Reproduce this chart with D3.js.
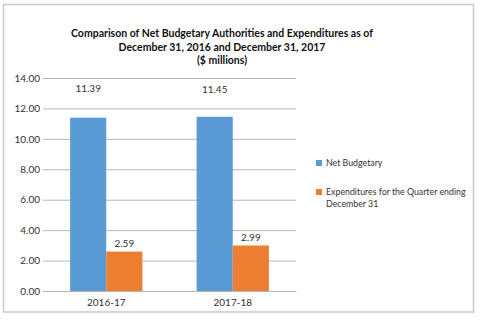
<!DOCTYPE html>
<html>
<head>
<meta charset="utf-8">
<script src="https://cdn.jsdelivr.net/npm/d3@7/dist/d3.min.js"></script>
<style>
  html, body { margin: 0; padding: 0; background: #fff; }
  svg { display: block; font-family: Lato, "Open Sans", sans-serif; }
</style>
</head>
<body>
<svg id="chart" width="480" height="330"></svg>
<script>
// Fiscal years on the category axis
const categories = ["2016-17", "2017-18"];
// Series names and values ($ millions)
const seriesNames = ["Net Budgetary", "Expenditures for the Quarter ending December 31"];
const netBudgetary = [11.39, 11.45];
const expenditures = [2.59, 2.99];
// Value axis ticks
const yTicks = [0, 2, 4, 6, 8, 10, 12, 14];
const titleLines = [
  "Comparison of Net Budgetary Authorities and Expenditures as of",
  "December 31, 2016 and December 31, 2017",
  "($ millions)"
];

const colors = ["#5b9bd5", "#ed7d31"];
const series = [netBudgetary, expenditures];

const svg = d3.select("#chart");

// Chart frame
svg.append("rect")
  .attr("x", 3.5).attr("y", 4.5)
  .attr("width", 470).attr("height", 307.5)
  .attr("fill", "#fff")
  .attr("stroke", "#c9c9c9")
  .attr("stroke-width", 1.5);

// Title
svg.append("g").selectAll("text")
  .data(titleLines)
  .join("text")
  .attr("x", 222)
  .attr("y", (d, i) => 37 + i * 13.5)
  .attr("text-anchor", "middle")
  .attr("font-size", 10.5)
  .attr("font-weight", "bold")
  .attr("fill", "#111")
  .text(d => d);

const plot = { left: 43, right: 296, top: 78, bottom: 291 };

const x = d3.scaleBand()
  .domain(categories)
  .range([plot.left, plot.right])
  .paddingInner(0)
  .paddingOuter(0);

const y = d3.scaleLinear()
  .domain([0, 14])
  .range([plot.bottom, plot.top]);

// Bars occupy 1/(1+1.5 gap) of each category band
const groupWidth = x.bandwidth() / 1.75;
const xs = d3.scaleBand()
  .domain(d3.range(series.length))
  .range([0, groupWidth]);

// Gridlines
svg.append("g")
  .attr("transform", `translate(${plot.left},0)`)
  .call(d3.axisLeft(y).tickValues(yTicks).tickSize(-(plot.right - plot.left)).tickFormat(d3.format(".2f")))
  .call(g => g.select(".domain").remove())
  .call(g => g.selectAll(".tick line").attr("stroke", "#b5b5b5").attr("stroke-width", 1))
  .call(g => g.selectAll(".tick text")
    .attr("x", -3)
    .attr("font-size", 10)
    .attr("fill", "#333")
    .attr("font-family", "Lato, 'Open Sans', sans-serif"));

// Bars
const groups = svg.append("g").selectAll("g")
  .data(categories)
  .join("g")
  .attr("transform", d => `translate(${x(d) + (x.bandwidth() - groupWidth) / 2},0)`);

series.forEach((vals, si) => {
  groups.append("rect")
    .attr("x", xs(si))
    .attr("width", xs.bandwidth())
    .attr("y", (d, i) => y(vals[i]))
    .attr("height", (d, i) => y(0) - y(vals[i]))
    .attr("fill", colors[si]);
});

// Value labels: Net Budgetary labels sit near the top of the plot
groups.append("text")
  .attr("x", xs(0) + xs.bandwidth() / 2)
  .attr("y", (d, i) => y(netBudgetary[i]) - 26 + (i ? 1 : 0) * 2)
  .attr("text-anchor", "middle")
  .attr("font-size", 10)
  .attr("fill", "#333")
  .text((d, i) => netBudgetary[i].toFixed(2));

groups.append("text")
  .attr("x", xs(1) + xs.bandwidth() / 2)
  .attr("y", (d, i) => y(expenditures[i]) - 5)
  .attr("text-anchor", "middle")
  .attr("font-size", 10)
  .attr("fill", "#333")
  .text((d, i) => expenditures[i].toFixed(2));

// Category axis
svg.append("g")
  .attr("transform", `translate(0,${plot.bottom})`)
  .call(d3.axisBottom(x).tickSize(0).tickPadding(8))
  .call(g => g.select(".domain").attr("stroke", "#b5b5b5"))
  .call(g => g.selectAll(".tick text")
    .attr("font-size", 10)
    .attr("fill", "#333")
    .attr("font-family", "Lato, 'Open Sans', sans-serif"));

// Legend
const legend = svg.append("g");
const legendY = [163, 192];
seriesNames.forEach((name, i) => {
  legend.append("rect")
    .attr("x", 316).attr("y", legendY[i] - 3)
    .attr("width", 6).attr("height", 6)
    .attr("fill", colors[i]);
  const words = i === 0 ? [name] : ["Expenditures for the Quarter ending", "December 31"];
  legend.append("text")
    .attr("font-size", 8.8)
    .attr("fill", "#333")
    .selectAll("tspan")
    .data(words)
    .join("tspan")
    .attr("x", 326)
    .attr("y", (d, j) => legendY[i] + 3.2 + j * 11.5)
    .text(d => d);
});
</script>
</body>
</html>
